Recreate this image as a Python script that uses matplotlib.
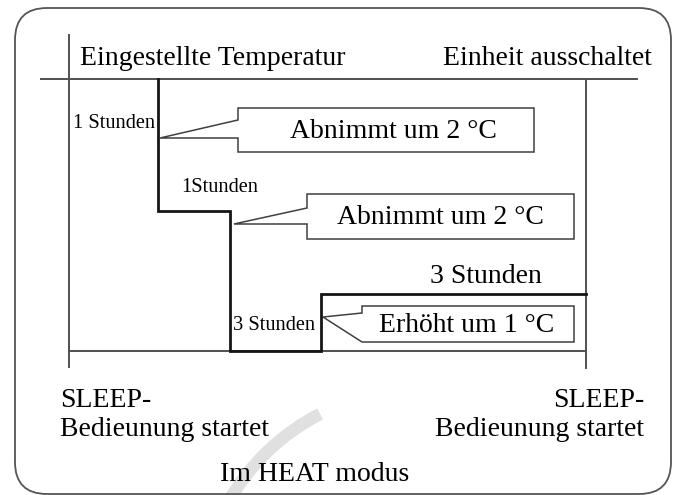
import matplotlib.pyplot as plt
from matplotlib.patches import FancyBboxPatch, Polygon, Arc

plt.rcParams['font.family'] = ['Liberation Serif', 'DejaVu Serif']

# diagram is laid out in image coordinates (x right, y down)
W, H = 678, 495

# schematic time axis: left edge, 1 h step, 2 h step, start of 3 h block, end
step_x = [158, 158, 230, 230, 321, 321, 586]
step_y = [79, 211, 211, 351, 351, 294, 294]

# callout boxes: (left, right, top, bottom, notch top, notch bottom, tip x, tip y, text)
callouts = [
    (238, 534, 108, 152, 120, 138, 160, 138, 'Abnimmt um 2 °C'),
    (307, 574, 194, 239, 208, 224, 234, 224, 'Abnimmt um 2 °C'),
    (362, 574, 306, 342, 313, 342, 323, 317, 'Erhöht um 1 °C'),
]
callout_text_x = [290, 337, 379]

big = 20
small = 14.7

fig = plt.figure(figsize=(W / 100, H / 100), dpi=100)
ax = fig.add_axes([0, 0, 1, 1])
ax.set_xlim(0, W)
ax.set_ylim(H, 0)
ax.axis('off')

# faint watermark stroke
ax.add_patch(Arc((420, 610), 440, 440, theta1=210, theta2=243,
                 color='#e0e0e0', lw=9, zorder=0))

# outer rounded frame
ax.add_patch(FancyBboxPatch((15, 8), 656, 486,
                            boxstyle='round,pad=0,rounding_size=32',
                            fc='none', ec='#555555', lw=1.3, zorder=1))

axis_col = '#505050'
ax.plot([41, 637], [79, 79], color=axis_col, lw=1.4)        # top line
ax.plot([69, 69], [35, 367], color=axis_col, lw=1.4)        # left axis
ax.plot([586, 586], [79, 368], color=axis_col, lw=1.4)      # right axis
ax.plot([69, 586], [351, 351], color=axis_col, lw=1.4)      # bottom line

# temperature step line
ax.plot(step_x, step_y, color='#151515', lw=2.0, solid_joinstyle='miter', zorder=3)

for (x0, x1, y0, y1, n1, n2, tx, ty, label), lx in zip(callouts, callout_text_x):
    pts = [(x0, y0), (x1, y0), (x1, y1), (x0, y1), (x0, n2), (tx, ty), (x0, n1)]
    ax.add_patch(Polygon(pts, closed=True, fc='white', ec='#404040', lw=1.1, zorder=2))
    ax.text(lx, (y0 + y1) / 2 + 1, label, fontsize=big, va='center', ha='left', zorder=4)

# header labels
ax.text(80, 65, 'Eingestellte Temperatur', fontsize=big, va='baseline')
ax.text(652, 65, 'Einheit ausschaltet', fontsize=big, va='baseline', ha='right')

# duration labels
ax.text(73, 128, '1 Stunden', fontsize=small, va='baseline')
ax.text(181, 192, '1Stunden', fontsize=small, va='baseline')
ax.text(233, 330, '3 Stunden', fontsize=small, va='baseline')
ax.text(430, 283, '3 Stunden', fontsize=big, va='baseline')

# bottom labels
ax.text(60, 407, 'SLEEP-', fontsize=big, va='baseline')
ax.text(60, 436, 'Bedieunung startet', fontsize=big, va='baseline')
ax.text(644, 407, 'SLEEP-', fontsize=big, va='baseline', ha='right')
ax.text(644, 436, 'Bedieunung startet', fontsize=big, va='baseline', ha='right')
ax.text(220, 481, 'Im HEAT modus', fontsize=big, va='baseline')

fig.savefig('out.png', dpi=100)
